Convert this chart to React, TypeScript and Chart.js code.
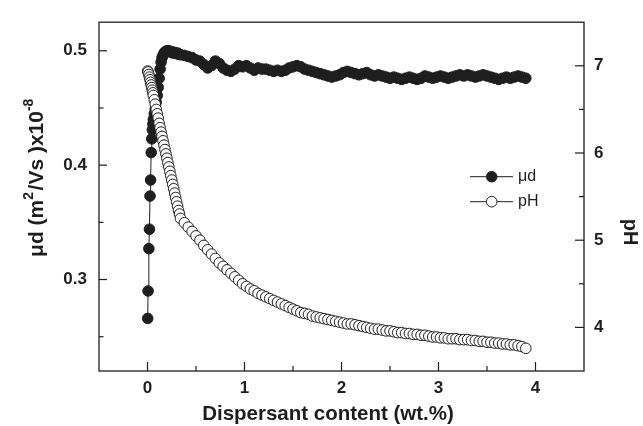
import React, { useEffect, useRef } from "react";
import { Chart, registerables } from "chart.js";

Chart.register(...registerables);

// Dispersant content (wt.%)
const xValues = [
  0.002, 0.006, 0.014, 0.020, 0.026, 0.032, 0.038, 0.044, 0.050, 0.056,
  0.06, 0.07, 0.08, 0.09, 0.10, 0.11, 0.12, 0.13, 0.14, 0.15,
  0.16, 0.17, 0.18, 0.19, 0.20, 0.21, 0.22, 0.23, 0.24, 0.25,
  0.26, 0.27, 0.28, 0.29, 0.30, 0.31, 0.32, 0.33, 0.34, 0.38,
  0.42, 0.46, 0.50, 0.54, 0.58, 0.62, 0.66, 0.70, 0.74, 0.78,
  0.82, 0.86, 0.90, 0.94, 0.98, 1.02, 1.06, 1.10, 1.14, 1.18,
  1.22, 1.26, 1.30, 1.34, 1.38, 1.42, 1.46, 1.50, 1.54, 1.58,
  1.62, 1.66, 1.70, 1.74, 1.78, 1.82, 1.86, 1.90, 1.94, 1.98,
  2.02, 2.06, 2.10, 2.14, 2.18, 2.22, 2.26, 2.30, 2.34, 2.38,
  2.42, 2.46, 2.50, 2.54, 2.58, 2.62, 2.66, 2.70, 2.74, 2.78,
  2.82, 2.86, 2.90, 2.94, 2.98, 3.02, 3.06, 3.10, 3.14, 3.18,
  3.22, 3.26, 3.30, 3.34, 3.38, 3.42, 3.46, 3.50, 3.54, 3.58,
  3.62, 3.66, 3.70, 3.74, 3.78, 3.82, 3.86, 3.90,
];

// μd (m²/Vs) x10^-8
const muValues = [
  0.266, 0.290, 0.327, 0.344, 0.373, 0.387, 0.411, 0.423, 0.431, 0.436,
  0.440, 0.445, 0.449, 0.455, 0.461, 0.468, 0.476, 0.484, 0.490, 0.494,
  0.496, 0.498, 0.499, 0.4995, 0.500, 0.500, 0.4995, 0.4998, 0.499, 0.4985,
  0.499, 0.498, 0.4985, 0.498, 0.4975, 0.498, 0.497, 0.497, 0.4965, 0.496,
  0.495, 0.494, 0.492, 0.491, 0.488, 0.485, 0.487, 0.491, 0.489, 0.485,
  0.483, 0.482, 0.484, 0.487, 0.486, 0.487, 0.485, 0.483, 0.485, 0.484,
  0.484, 0.483, 0.482, 0.483, 0.482, 0.483, 0.485, 0.486, 0.487, 0.486,
  0.484, 0.483, 0.482, 0.481, 0.480, 0.479, 0.478, 0.477, 0.478, 0.479,
  0.481, 0.482, 0.481, 0.480, 0.479, 0.480, 0.481, 0.479, 0.478, 0.479,
  0.478, 0.477, 0.476, 0.477, 0.476, 0.475, 0.476, 0.477, 0.476, 0.475,
  0.476, 0.478, 0.477, 0.476, 0.477, 0.478, 0.477, 0.476, 0.477, 0.478,
  0.479, 0.478, 0.479, 0.478, 0.477, 0.478, 0.479, 0.478, 0.477, 0.476,
  0.475, 0.476, 0.477, 0.476, 0.477, 0.478, 0.477, 0.476,
];

// pH
const phValues = [
  6.94, 6.93, 6.90, 6.87, 6.84, 6.81, 6.78, 6.75, 6.72, 6.69,
  6.66, 6.61, 6.56, 6.50, 6.45, 6.40, 6.34, 6.29, 6.24, 6.19,
  6.14, 6.09, 6.04, 5.99, 5.94, 5.89, 5.84, 5.79, 5.74, 5.69,
  5.64, 5.59, 5.54, 5.49, 5.44, 5.39, 5.34, 5.30, 5.25, 5.20,
  5.15, 5.10, 5.05, 5.00, 4.94, 4.89, 4.84, 4.79, 4.74, 4.70,
  4.66, 4.62, 4.58, 4.54, 4.50, 4.47, 4.44, 4.42, 4.39, 4.37,
  4.35, 4.33, 4.31, 4.29, 4.27, 4.25, 4.23, 4.21, 4.19, 4.17,
  4.16, 4.15, 4.13, 4.12, 4.11, 4.10, 4.09, 4.08, 4.07, 4.06,
  4.05, 4.04, 4.04, 4.03, 4.02, 4.01, 4.00, 3.99, 3.98, 3.98,
  3.97, 3.96, 3.96, 3.95, 3.94, 3.94, 3.93, 3.93, 3.92, 3.92,
  3.91, 3.91, 3.90, 3.89, 3.89, 3.88, 3.88, 3.87, 3.87, 3.87,
  3.86, 3.86, 3.86, 3.85, 3.85, 3.84, 3.84, 3.83, 3.83, 3.82,
  3.82, 3.81, 3.81, 3.80, 3.80, 3.79, 3.78, 3.76,
];

const xTickValues = [0, 1, 2, 3, 4];
const xMinorTicks = [0.5, 1.5, 2.5, 3.5];
const muTickValues = [0.3, 0.4, 0.5];
const muMinorTicks = [0.25, 0.35, 0.45];
const phTickValues = [4, 5, 6, 7];
const phMinorTicks = [4.5, 5.5, 6.5];

const xTitle = "Dispersant content (wt.%)";
const phTitle = "pH";
const legendLabels = ["\u03bcd", "pH"];

const FONT = '"Liberation Sans", Arial, Helvetica, sans-serif';
const INK = "#1e1e1e";

const decorPlugin = {
  id: "decor",
  afterDraw(chart: any) {
    const { ctx, chartArea: a, scales } = chart;
    ctx.save();
    ctx.strokeStyle = INK;
    ctx.lineWidth = 1.3;
    ctx.strokeRect(a.left, a.top, a.right - a.left, a.bottom - a.top);

    const seg = (x1: number, y1: number, x2: number, y2: number) => {
      ctx.beginPath();
      ctx.moveTo(x1, y1);
      ctx.lineTo(x2, y2);
      ctx.stroke();
    };
    ctx.lineWidth = 1.2;
    for (const v of xTickValues) {
      const p = scales.x.getPixelForValue(v);
      seg(p, a.bottom, p, a.bottom - 9);
    }
    for (const v of xMinorTicks) {
      const p = scales.x.getPixelForValue(v);
      seg(p, a.bottom, p, a.bottom - 5);
    }
    for (const v of muTickValues) {
      const p = scales.y.getPixelForValue(v);
      seg(a.left, p, a.left + 8, p);
    }
    for (const v of muMinorTicks) {
      const p = scales.y.getPixelForValue(v);
      seg(a.left, p, a.left + 4.5, p);
    }
    for (const v of phTickValues) {
      const p = scales.y1.getPixelForValue(v);
      seg(a.right, p, a.right - 9, p);
    }
    for (const v of phMinorTicks) {
      const p = scales.y1.getPixelForValue(v);
      seg(a.right, p, a.right - 5, p);
    }

    // X axis title
    ctx.fillStyle = INK;
    ctx.font = `bold 20.5px ${FONT}`;
    ctx.textAlign = "center";
    ctx.textBaseline = "alphabetic";
    ctx.fillText(xTitle, 328, 420);

    // Left axis title with superscripts
    ctx.save();
    ctx.translate(35, 177);
    ctx.rotate(-Math.PI / 2);
    const parts: [string, boolean][] = [
      ["\u03bcd (m", false],
      ["2", true],
      ["/Vs )x10", false],
      ["-8", true],
    ];
    const mainFont = `bold 21px ${FONT}`;
    const supFont = `bold 14px ${FONT}`;
    let total = 0;
    for (const [t, sup] of parts) {
      ctx.font = sup ? supFont : mainFont;
      total += ctx.measureText(t).width + (sup ? 1.5 : 0);
    }
    let cx = -total / 2;
    ctx.textAlign = "left";
    for (const [t, sup] of parts) {
      ctx.font = sup ? supFont : mainFont;
      ctx.fillText(t, cx, sup ? -2 : 7.5);
      cx += ctx.measureText(t).width + (sup ? 1.5 : 0);
    }
    ctx.restore();

    // Right axis title
    ctx.save();
    ctx.translate(630, 232);
    ctx.rotate(Math.PI / 2);
    ctx.font = `bold 20px ${FONT}`;
    ctx.textAlign = "center";
    ctx.textBaseline = "middle";
    ctx.fillText(phTitle, 0, 0);
    ctx.restore();

    // Legend
    const rows = [176.7, 201.7];
    ctx.lineWidth = 1;
    ctx.strokeStyle = INK;
    rows.forEach((ry, i) => {
      seg(470, ry, 513, ry);
      ctx.beginPath();
      ctx.arc(491.7, ry, 5.3, 0, Math.PI * 2);
      ctx.fillStyle = i === 0 ? INK : "#ffffff";
      ctx.fill();
      ctx.stroke();
      ctx.fillStyle = INK;
      ctx.font = `16px ${FONT}`;
      ctx.textAlign = "left";
      ctx.textBaseline = "middle";
      ctx.fillText(legendLabels[i], 518, ry);
    });
    ctx.restore();
  },
};

export default function App() {
  const ref = useRef<HTMLCanvasElement | null>(null);
  useEffect(() => {
    if (!ref.current) return;
    const muData = xValues.map((x, i) => ({ x, y: muValues[i] }));
    const phData = xValues.map((x, i) => ({ x, y: phValues[i] }));
    const tickFont = { family: FONT, size: 17, weight: "bold" as const };
    const chart = new Chart(ref.current, {
      type: "scatter",
      data: {
        datasets: [
          {
            label: "pH",
            data: phData,
            yAxisID: "y1",
            showLine: true,
            borderColor: INK,
            borderWidth: 1,
            pointRadius: 5.3,
            pointBorderWidth: 1,
            pointBackgroundColor: "#ffffff",
            pointBorderColor: INK,
          },
          {
            label: "\u03bcd",
            data: muData,
            yAxisID: "y",
            showLine: true,
            borderColor: INK,
            borderWidth: 1,
            pointRadius: 5.3,
            pointBorderWidth: 1,
            pointBackgroundColor: INK,
            pointBorderColor: INK,
          },
        ],
      },
      options: {
        animation: false,
        responsive: false,
        devicePixelRatio: 1,
        layout: { padding: { top: 13, left: 0, right: 0, bottom: 0 } },
        plugins: { legend: { display: false }, tooltip: { enabled: false } },
        scales: {
          x: {
            type: "linear",
            min: -0.5,
            max: 4.5,
            grid: { display: false, drawTicks: false },
            border: { display: false },
            afterBuildTicks: (s: any) => {
              s.ticks = xTickValues.map((v) => ({ value: v }));
            },
            afterFit: (s: any) => {
              s.height = 55;
            },
            ticks: {
              font: tickFont,
              color: INK,
              padding: 7,
              maxRotation: 0,
              callback: (v: any) => String(v),
            },
          },
          y: {
            type: "linear",
            position: "left",
            min: 0.22,
            max: 0.525,
            grid: { display: false, drawTicks: false },
            border: { display: false },
            afterBuildTicks: (s: any) => {
              s.ticks = muTickValues.map((v) => ({ value: v }));
            },
            afterFit: (s: any) => {
              s.width = 99;
            },
            ticks: {
              font: tickFont,
              color: INK,
              padding: 12,
              callback: (v: any) => Number(v).toFixed(1),
            },
          },
          y1: {
            type: "linear",
            position: "right",
            min: 3.5,
            max: 7.5,
            grid: { display: false, drawTicks: false },
            border: { display: false },
            afterBuildTicks: (s: any) => {
              s.ticks = phTickValues.map((v) => ({ value: v }));
            },
            afterFit: (s: any) => {
              s.width = 59;
            },
            ticks: {
              font: tickFont,
              color: INK,
              padding: 10,
              callback: (v: any) => String(v),
            },
          },
        },
      },
      plugins: [decorPlugin],
    });
    return () => chart.destroy();
  }, []);
  return (
    <div style={{ position: "absolute", left: 0, top: 0, width: 643, height: 426, background: "#fff" }}>
      <canvas ref={ref} width={643} height={426} style={{ width: 643, height: 426 }} />
    </div>
  );
}
